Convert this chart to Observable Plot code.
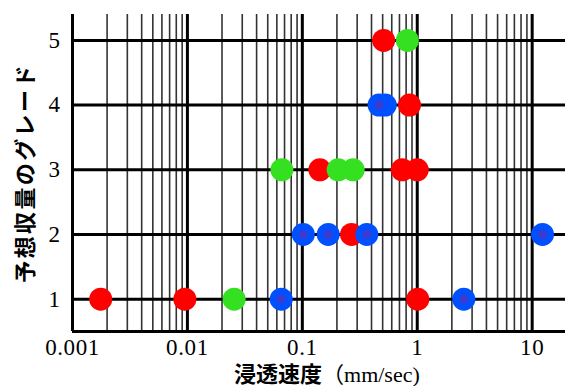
<!DOCTYPE html>
<html><head><meta charset="utf-8">
<script src="https://cdn.jsdelivr.net/npm/d3@7"></script>
<script src="https://cdn.jsdelivr.net/npm/@observablehq/plot@0.6"></script>
<style>body{margin:0;background:#fff}</style>
</head><body><div id="chart"></div>
<script>
// ---- data ----
const grades = [1, 2, 3, 4, 5];
const decadeTicks = [0.001, 0.01, 0.1, 1, 10];
const decadeLabels = ["0.001", "0.01", "0.1", "1", "10"];
const redSpeed   = [0.00176, 0.0095, 1.01, 0.268, 0.142, 0.74, 1.0, 0.857, 0.51];
const redGrade   = [1, 1, 1, 2, 3, 3, 3, 4, 5];
const greenSpeed = [0.0255, 0.0664, 0.205, 0.277, 0.82];
const greenGrade = [1, 3, 3, 3, 5];
const blueSpeed  = [0.0655, 2.54, 0.102, 0.168, 0.364, 12.3, 0.527, 0.465];
const blueGrade  = [1, 1, 2, 2, 2, 2, 4, 4];
const xLabel = "浸透速度";
const xUnit = "mm/sec)";
const yLabel = "予想収量のグレード";

const xMax = 19.5;
const minorTicks = decadeTicks.flatMap(d => [2,3,4,5,6,7,8,9].map(k => k * d)).filter(v => v <= xMax);
const toRows = (xs, ys) => xs.map((x, i) => ({x, y: ys[i]}));
const red = toRows(redSpeed, redGrade);
const green = toRows(greenSpeed, greenGrade);
const blue = toRows(blueSpeed, blueGrade);
const serif = "'Liberation Serif', 'Times New Roman', serif";

const chart = Plot.plot({
  width: 565,
  height: 386,
  marginLeft: 72,
  marginRight: 0,
  marginTop: 14,
  marginBottom: 55,
  style: {background: "#fff", color: "#000"},
  x: {type: "log", domain: [0.001, xMax]},
  y: {domain: [0.5, 5.4]},
  marks: [
    Plot.ruleX(minorTicks, {stroke: "#333", strokeWidth: 1.6}),
    Plot.ruleX(decadeTicks, {stroke: "#000", strokeWidth: 3}),
    Plot.ruleY(grades, {stroke: "#000", strokeWidth: 3}),
    Plot.ruleY([0.5], {stroke: "#000", strokeWidth: 3}),
    Plot.dot(red, {x: "x", y: "y", r: 11.5, fill: "#ff0000"}),
    Plot.dot(green, {x: "x", y: "y", r: 11.5, fill: "#35e021"}),
    Plot.dot(blue, {x: "x", y: "y", r: 8, fill: "#3b3bd0", stroke: "#0050ff", strokeWidth: 7}),
    Plot.axisX(decadeTicks, {tickSize: 0, tickPadding: 7, label: null,
      fontFamily: serif, fontSize: 23, fill: "#000",
      tickFormat: d => decadeLabels[decadeTicks.indexOf(d)]}),
    Plot.axisY(grades, {tickSize: 0, tickPadding: 12, label: null,
      fontFamily: serif, fontSize: 23, fill: "#000", tickFormat: d => String(d)})
  ]
});

const svg = d3.select(chart);
svg.selectAll("g[aria-label$='tick label'] text").style("letter-spacing", "0.6px");

svg.append("text")
  .attr("transform", "translate(22.5,173) rotate(-90)")
  .attr("text-anchor", "middle")
  .attr("dominant-baseline", "central")
  .attr("font-family", "'Noto Sans CJK JP', sans-serif")
  .attr("font-weight", "bold")
  .attr("font-size", 22)
  .attr("letter-spacing", 2.4)
  .attr("fill", "#000")
  .text(yLabel);

const t = svg.append("text").attr("x", 234).attr("y", 382).attr("text-anchor", "start")
  .attr("fill", "#000").attr("font-size", 22);
t.append("tspan").attr("font-family", "'Noto Sans CJK JP', sans-serif").attr("font-weight", "bold").text(xLabel);
t.append("tspan").attr("font-family", "'Noto Sans CJK JP', sans-serif").text("（");
t.append("tspan").attr("font-family", serif).text(xUnit);

document.getElementById("chart").appendChild(chart);
</script>
</body></html>
